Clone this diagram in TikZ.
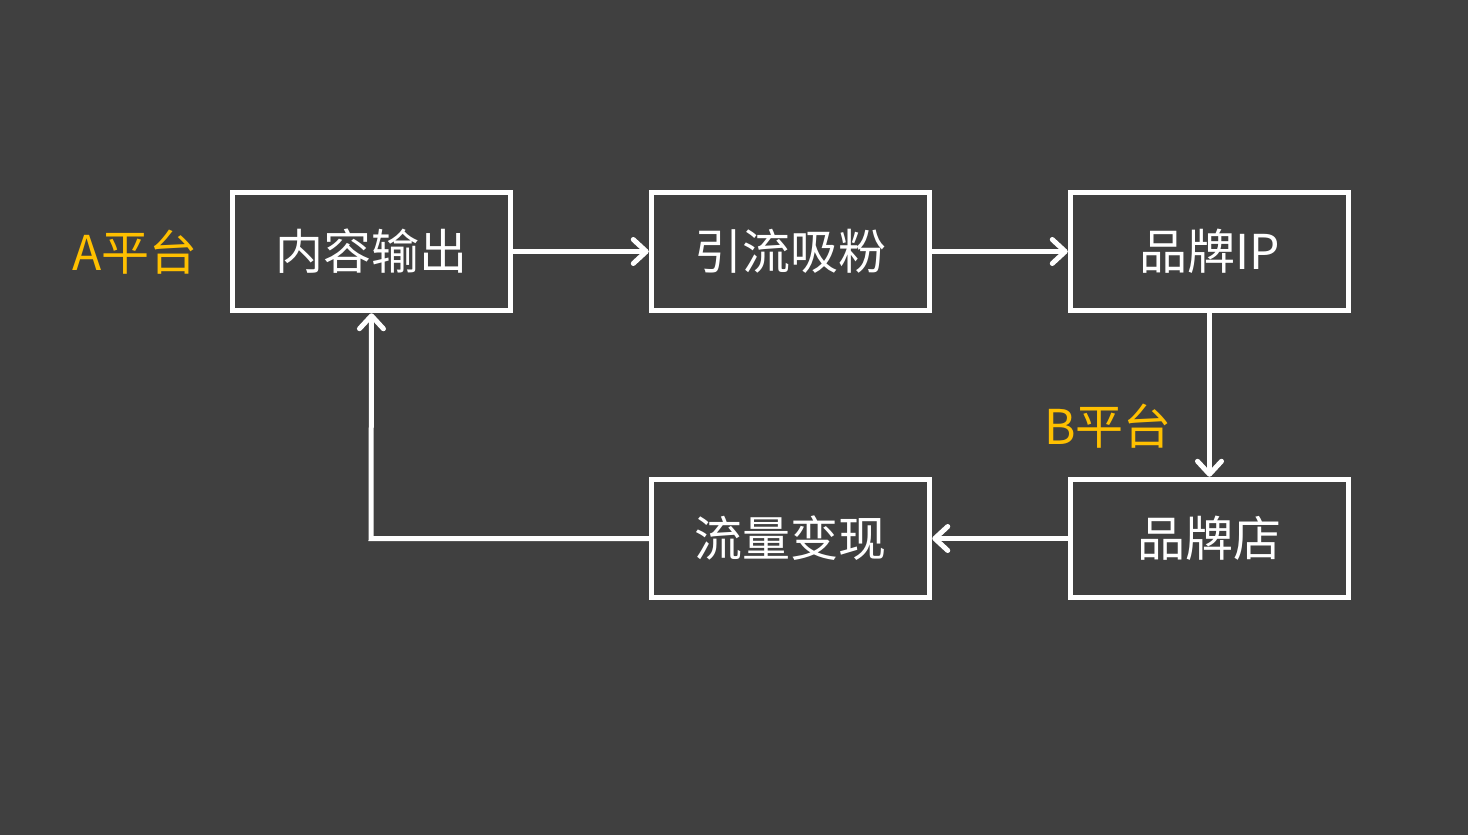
\documentclass[tikz,border=0pt]{standalone}
\usepackage{fontspec}
\setmainfont{Noto Sans CJK SC}
\usetikzlibrary{arrows.meta}
\definecolor{bg}{HTML}{404040}
\definecolor{lab}{HTML}{FFC000}
\begin{document}
\begin{tikzpicture}[x=1pt,y=-1pt,
  box/.style={draw=white,line width=5.5pt,minimum width=278pt,minimum height=118pt,inner sep=0pt,text=white,font=\fontsize{48}{54}\selectfont},
  conn/.style={draw=white,line width=5pt,-{Straight Barb[length=13pt,width=24pt,line cap=round,line join=round]}},
  plat/.style={text=lab,font=\fontsize{48}{54}\selectfont,inner sep=0pt}]
\fill[bg] (0,0) rectangle (1468,835);
\useasboundingbox (0,0) rectangle (1468,835);
\node[box] (a) at (371.5,251.5) {内容输出};
\node[box] (b) at (790.5,251.5) {引流吸粉};
\node[box] (c) at (1209.5,251.5) {品牌IP};
\node[box] (d) at (790.5,538.5) {流量变现};
\node[box] (e) at (1209.5,538.5) {品牌店};
\node[plat] (la) at (135,252) {A平台};
\node[plat] (lb) at (1108,426) {B平台};
\coordinate (k) at (371,538.5);
\draw[conn] (a) -- (b);
\draw[conn] (b) -- (c);
\draw[conn] (c) -- (e);
\draw[conn] (e) -- (d);
\draw[conn] (d.west) -- (k) -- (a.south);
\end{tikzpicture}
\end{document}
